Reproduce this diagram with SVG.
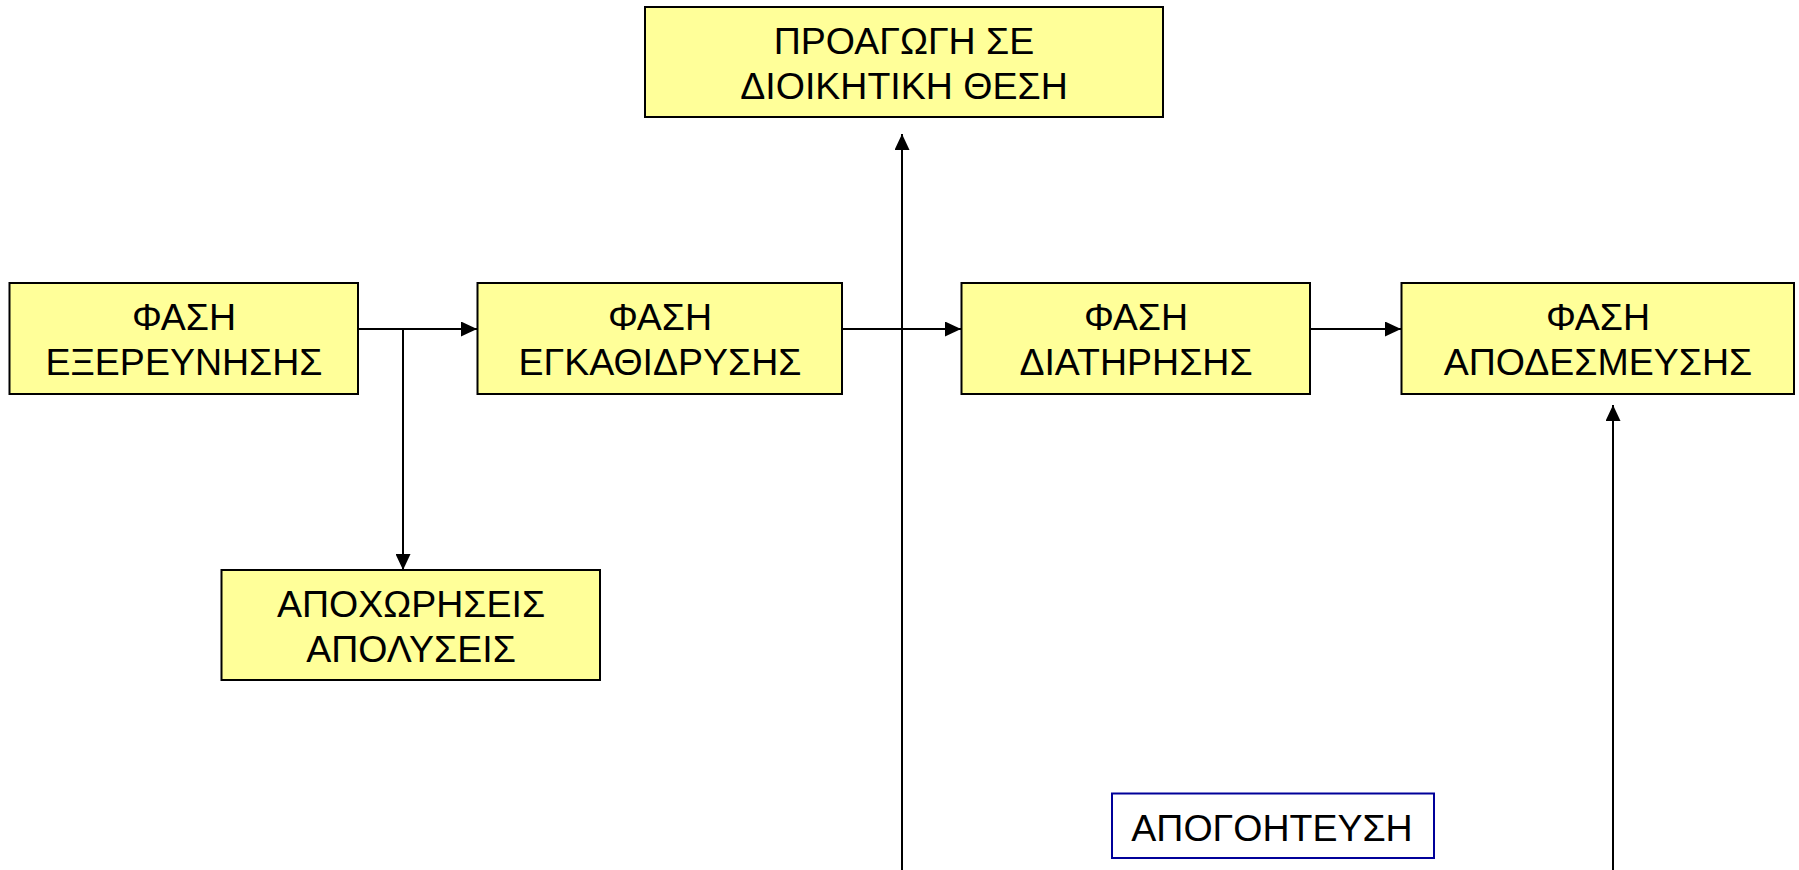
<svg xmlns="http://www.w3.org/2000/svg" width="1799" height="870" viewBox="0 0 1799 870">
<style>
.node{fill:#FFFF99;stroke:#000;stroke-width:2}
.lbl{font-family:"Liberation Sans",Arial,sans-serif;font-size:37.5px;fill:#000;text-anchor:middle}
.c{stroke:#000;stroke-width:2;fill:none;marker-end:url(#ah)}
</style>
<defs>
<marker id="ah" markerWidth="16" markerHeight="15" refX="16" refY="7.5" orient="auto" markerUnits="userSpaceOnUse">
<path d="M0,0 L16,7.5 L0,15 Z" fill="#000"/>
</marker>
</defs>
<rect width="1799" height="870" fill="#fff"/>
<g id="connectors">
<path class="c" d="M358,329 H477"/>
<path class="c" d="M403,329 V570"/>
<path class="c" d="M842,329 H961"/>
<path class="c" d="M1310,329 H1401"/>
<path class="c" d="M902,870 V134"/>
<path class="c" d="M1613,870 V405"/>
</g>
<g id="promotion">
<rect class="node" x="645" y="7" width="518" height="110"/>
<text class="lbl" x="904" y="54">ΠΡΟΑΓΩΓΗ ΣΕ</text>
<text class="lbl" x="904" y="99">ΔΙΟΙΚΗΤΙΚΗ ΘΕΣΗ</text>
</g>
<g id="exploration">
<rect class="node" x="9.5" y="283" width="348.5" height="111"/>
<text class="lbl" x="184" y="330">ΦΑΣΗ</text>
<text class="lbl" x="184" y="375">ΕΞΕΡΕΥΝΗΣΗΣ</text>
</g>
<g id="establishment">
<rect class="node" x="477.5" y="283" width="364.5" height="111"/>
<text class="lbl" x="660" y="330">ΦΑΣΗ</text>
<text class="lbl" x="660" y="375">ΕΓΚΑΘΙΔΡΥΣΗΣ</text>
</g>
<g id="maintenance">
<rect class="node" x="961.5" y="283" width="348.5" height="111"/>
<text class="lbl" x="1136" y="330">ΦΑΣΗ</text>
<text class="lbl" x="1136" y="375">ΔΙΑΤΗΡΗΣΗΣ</text>
</g>
<g id="disengagement">
<rect class="node" x="1401.5" y="283" width="392.5" height="111"/>
<text class="lbl" x="1598" y="330">ΦΑΣΗ</text>
<text class="lbl" x="1598" y="375">ΑΠΟΔΕΣΜΕΥΣΗΣ</text>
</g>
<g id="departures">
<rect class="node" x="221.5" y="570" width="378.5" height="110"/>
<text class="lbl" x="411" y="617">ΑΠΟΧΩΡΗΣΕΙΣ</text>
<text class="lbl" x="411" y="662">ΑΠΟΛΥΣΕΙΣ</text>
</g>
<g id="disappointment">
<rect x="1112" y="793.5" width="322" height="64.5" fill="#fff" stroke="#000099" stroke-width="2"/>
<text class="lbl" x="1272" y="841">ΑΠΟΓΟΗΤΕΥΣΗ</text>
</g>
</svg>
